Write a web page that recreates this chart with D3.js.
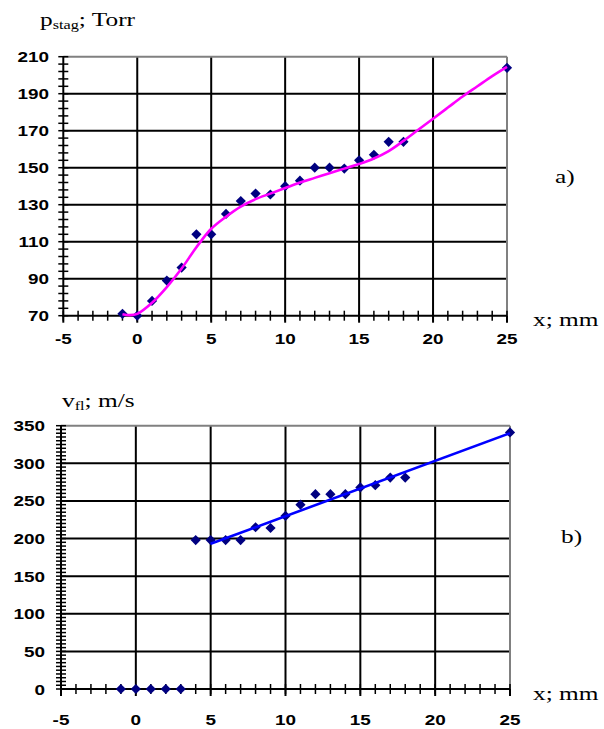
<!DOCTYPE html>
<html><head><meta charset="utf-8">
<script src="https://cdn.jsdelivr.net/npm/d3@7"></script>
<style>
body{margin:0;background:#fff;}
svg{display:block;}
</style></head>
<body>
<svg id="c" width="604" height="729"></svg>
<script>
// ---- data ----
const xTicks = [-5, 0, 5, 10, 15, 20, 25];
const pTicks = [70, 90, 110, 130, 150, 170, 190, 210];
const vTicks = [0, 50, 100, 150, 200, 250, 300, 350];

const pX = [-1, 0, 1, 2, 3, 4, 5, 6, 7, 8, 9, 10, 11, 12, 13, 14, 15, 16, 17, 18, 25];
const pY = [71, 70, 78, 89, 96, 114, 114, 125, 132, 136, 135.5, 140, 143, 150, 150, 149.5, 154, 157, 164, 164, 204];

// trendline
const pFitX = [-1, -0.5, 0, 1, 2, 3, 4, 5, 6, 7, 8, 9, 10, 11, 12, 13, 14, 15, 16, 17, 18, 19, 20, 21, 22, 23, 24, 25];
const pFitY = [70.8, 70.3, 71, 77, 85.5, 95.5, 107, 117, 123.5, 129, 133, 136, 139, 142, 144.5, 147, 149.5, 152, 155, 159, 164.5, 170.5, 176.5, 182.5, 188.5, 194, 199.5, 204.5];

const vX = [-1, 0, 1, 2, 3, 4, 5, 6, 7, 8, 9, 10, 11, 12, 13, 14, 15, 16, 17, 18, 25];
const vY = [0, 0, 0, 0, 0, 198, 198, 198, 198, 215, 214, 230, 245, 259, 259, 259, 268, 271, 281, 281, 341];
const vFitX = [5, 25];
const vFitY = [193, 340];

const svg = d3.select("#c");
const TSX = 1.3;   // horizontal stretch of text in the picture
const serif = "'Liberation Serif','Times New Roman',serif";
const sans = "'Liberation Sans',Arial,sans-serif";

function txt(g, x, y, s, opt) {
  const t = g.append("text")
    .attr("transform", `translate(${x},${y}) scale(${opt.sx || TSX},1)`)
    .attr("font-family", opt.family)
    .attr("font-size", opt.size)
    .attr("font-weight", opt.weight || "normal")
    .attr("text-anchor", opt.anchor || "start")
    .attr("fill", "#000");
  return t;
}

function panel(cfg) {
  const g = svg.append("g");
  const x = d3.scaleLinear().domain([-5, 25]).range([cfg.x0, cfg.x1]);
  const y = d3.scaleLinear().domain([cfg.yTicks[0], cfg.yTicks[cfg.yTicks.length - 1]]).range([cfg.y0, cfg.y1]);

  // horizontal grid
  g.append("g").selectAll("line").data(cfg.yTicks.slice(1, -1)).join("line")
    .attr("x1", x(-5)).attr("x2", x(25)).attr("y1", d => y(d)).attr("y2", d => y(d))
    .attr("stroke", "#000").attr("stroke-width", 2);
  // vertical grid
  g.append("g").selectAll("line").data(xTicks.slice(1, -1)).join("line")
    .attr("x1", d => x(d)).attr("x2", d => x(d)).attr("y1", y.range()[0]).attr("y2", y.range()[1])
    .attr("stroke", "#000").attr("stroke-width", 2);
  // top & right border (gray)
  g.append("line").attr("x1", x(-5)).attr("x2", x(25)).attr("y1", y.range()[1]).attr("y2", y.range()[1])
    .attr("stroke", "#808080").attr("stroke-width", 2);
  g.append("line").attr("x1", x(25)).attr("x2", x(25)).attr("y1", y.range()[0]).attr("y2", y.range()[1])
    .attr("stroke", "#808080").attr("stroke-width", 2);

  // minor ticks y
  const ymin = d3.range(cfg.yTicks[0], cfg.yTicks[cfg.yTicks.length - 1] + 0.001, cfg.yMinor);
  g.append("g").selectAll("line").data(ymin).join("line")
    .attr("x1", x(-5) - 5).attr("x2", x(-5) + 5).attr("y1", d => y(d)).attr("y2", d => y(d))
    .attr("stroke", "#000").attr("stroke-width", 1.5);
  // minor ticks x
  const xmin = d3.range(-5, 25.001, 1);
  g.append("g").selectAll("line").data(xmin).join("line")
    .attr("x1", d => x(d)).attr("x2", d => x(d)).attr("y1", y.range()[0] - 5).attr("y2", y.range()[0] + 5)
    .attr("stroke", "#000").attr("stroke-width", 1.5);
  g.append("g").selectAll("line").data(xTicks).join("line")
    .attr("x1", d => x(d)).attr("x2", d => x(d)).attr("y1", y.range()[0]).attr("y2", y.range()[0] + 7)
    .attr("stroke", "#000").attr("stroke-width", 2);

  // axes
  g.append("line").attr("x1", x(-5)).attr("x2", x(25)).attr("y1", y.range()[0]).attr("y2", y.range()[0])
    .attr("stroke", "#000").attr("stroke-width", 2);
  g.append("line").attr("x1", x(-5)).attr("x2", x(-5)).attr("y1", y.range()[0] + 1).attr("y2", y.range()[1])
    .attr("stroke", "#000").attr("stroke-width", 2);

  // tick labels
  cfg.yTicks.forEach(v => {
    txt(g, cfg.yLabX, y(v) + 5.5, v, {family: sans, size: 15.5, weight: "bold", anchor: "end", sx: 1.22}).text(v);
  });
  xTicks.forEach(v => {
    txt(g, x(v), cfg.xLabY, v, {family: sans, size: 15.5, weight: "bold", anchor: "middle", sx: 1.22}).text(v);
  });

  // markers
  const diamond = d3.symbol().type(d3.symbolSquare).size(52);
  g.append("g").selectAll("path").data(cfg.px.map((d, i) => [d, cfg.py[i]])).join("path")
    .attr("d", diamond)
    .attr("transform", d => `translate(${x(d[0])},${y(d[1])}) rotate(45)`)
    .attr("fill", "#000080");

  // fit line
  const line = d3.line().x(d => x(d[0])).y(d => y(d[1])).curve(cfg.curve);
  g.append("path").datum(cfg.fx.map((d, i) => [d, cfg.fy[i]]))
    .attr("d", line).attr("fill", "none").attr("stroke", cfg.color).attr("stroke-width", 2.6);

  // titles
  const t = txt(g, cfg.titleX, cfg.titleY, "", {family: serif, size: 19.5});
  t.append("tspan").text(cfg.titleMain);
  t.append("tspan").attr("font-size", 12.5).attr("dy", 3).text(cfg.titleSub);
  t.append("tspan").attr("dy", -3).text(cfg.titleRest);

  txt(g, cfg.xTitleX, cfg.xTitleY, "", {family: serif, size: 19.5}).text("x; mm");
  txt(g, cfg.tagX, cfg.tagY, "", {family: serif, size: 19.5}).text(cfg.tag);
}

panel({
  x0: 63.3, x1: 507, y0: 315.7, y1: 56.7, yTicks: pTicks, yMinor: 4,
  px: pX, py: pY, fx: pFitX, fy: pFitY, color: "#ff00ff", curve: d3.curveCatmullRom,
  yLabX: 49, xLabY: 344,
  titleX: 40, titleY: 26, titleMain: "p", titleSub: "stag", titleRest: "; Torr",
  xTitleX: 533, xTitleY: 326, tag: "a)", tagX: 555, tagY: 183
});

panel({
  x0: 61, x1: 510, y0: 689, y1: 425.7, yTicks: vTicks, yMinor: 5,
  px: vX, py: vY, fx: vFitX, fy: vFitY, color: "#0000ff", curve: d3.curveLinear,
  yLabX: 45, xLabY: 725,
  titleX: 62, titleY: 407, titleMain: "v", titleSub: "fl", titleRest: "; m/s",
  xTitleX: 533, xTitleY: 700, tag: "b)", tagX: 561, tagY: 543
});
</script>
</body></html>
